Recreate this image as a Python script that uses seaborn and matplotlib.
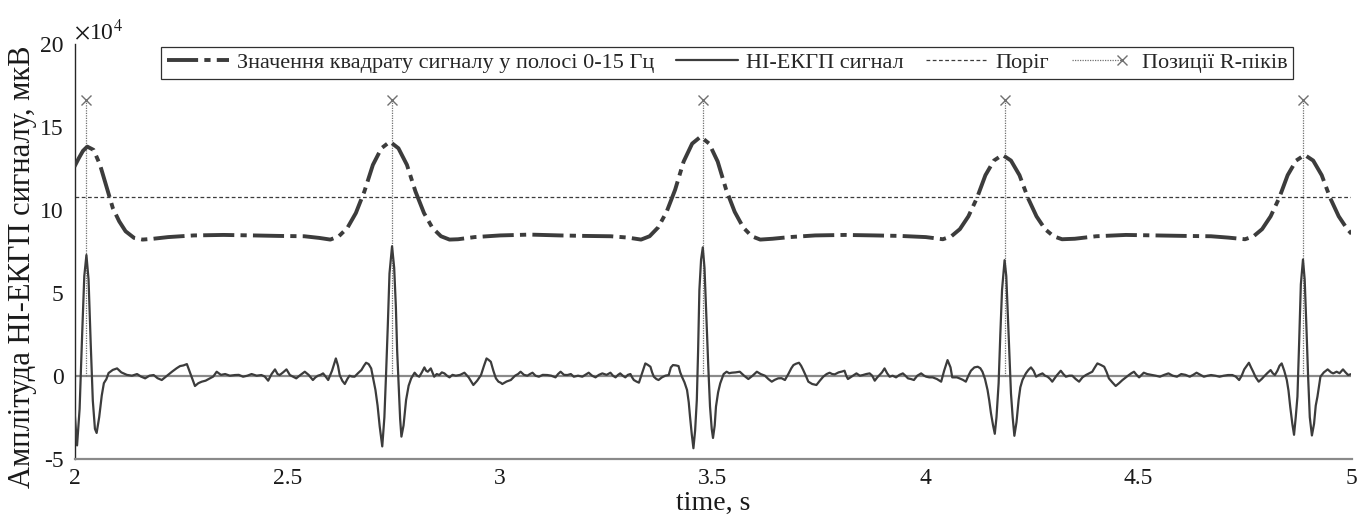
import numpy as np
import pandas as pd
import matplotlib
matplotlib.use("Agg")
import matplotlib.pyplot as plt
from matplotlib.lines import Line2D
from matplotlib.legend_handler import HandlerLine2D
from matplotlib.ticker import FixedLocator, FixedFormatter
import seaborn as sns

# ---------------- data (in units of 1e4 uV) ----------------
ecg_t = [2.000, 2.006, 2.012, 2.018, 2.023, 2.028, 2.033, 2.038, 2.043, 2.048, 2.052, 2.058, 2.064, 2.069,
         2.075, 2.080, 2.090, 2.100, 2.110, 2.123, 2.135, 2.147, 2.156, 2.166, 2.176, 2.186, 2.195, 2.205,
         2.215, 2.229, 2.240, 2.248, 2.256, 2.264, 2.272, 2.283, 2.291, 2.299, 2.308, 2.318, 2.326, 2.334,
         2.344, 2.354, 2.365, 2.377, 2.386, 2.396, 2.406, 2.416, 2.428, 2.439, 2.447, 2.455, 2.463, 2.471,
         2.477, 2.482, 2.490, 2.498, 2.506, 2.513, 2.521, 2.531, 2.541, 2.550, 2.560, 2.566, 2.572, 2.578,
         2.584, 2.590, 2.596, 2.605, 2.614, 2.619, 2.623, 2.629, 2.635, 2.641, 2.646, 2.652, 2.658, 2.666,
         2.674, 2.680, 2.685, 2.691, 2.697, 2.702, 2.707, 2.712, 2.717, 2.723, 2.728, 2.732, 2.736, 2.740,
         2.746, 2.751, 2.755, 2.758, 2.762, 2.765, 2.768, 2.773, 2.779, 2.785, 2.791, 2.799, 2.805, 2.810,
         2.816, 2.822, 2.826, 2.830, 2.837, 2.845, 2.851, 2.857, 2.863, 2.869, 2.875, 2.881, 2.888, 2.896,
         2.906, 2.916, 2.926, 2.937, 2.946, 2.955, 2.962, 2.968, 2.973, 2.978, 2.984, 2.990, 2.996, 3.001,
         3.005, 3.015, 3.025, 3.035, 3.042, 3.048, 3.056, 3.064, 3.070, 3.076, 3.083, 3.091, 3.100, 3.111,
         3.120, 3.130, 3.136, 3.142, 3.150, 3.158, 3.166, 3.173, 3.183, 3.193, 3.200, 3.208, 3.216, 3.224,
         3.232, 3.240, 3.250, 3.259, 3.265, 3.271, 3.277, 3.282, 3.288, 3.294, 3.300, 3.306, 3.310, 3.314,
         3.320, 3.326, 3.334, 3.341, 3.347, 3.353, 3.357, 3.361, 3.367, 3.372, 3.380, 3.388, 3.396, 3.401,
         3.406, 3.413, 3.419, 3.423, 3.427, 3.433, 3.439, 3.443, 3.446, 3.450, 3.454, 3.458, 3.462, 3.465,
         3.468, 3.472, 3.476, 3.480, 3.485, 3.489, 3.493, 3.497, 3.500, 3.504, 3.507, 3.512, 3.517, 3.525,
         3.532, 3.538, 3.544, 3.553, 3.563, 3.573, 3.583, 3.593, 3.603, 3.612, 3.622, 3.630, 3.638, 3.645,
         3.653, 3.661, 3.669, 3.677, 3.684, 3.689, 3.695, 3.702, 3.707, 3.712, 3.718, 3.724, 3.733, 3.743,
         3.751, 3.759, 3.767, 3.774, 3.780, 3.786, 3.795, 3.803, 3.809, 3.813, 3.817, 3.826, 3.837, 3.845,
         3.852, 3.860, 3.868, 3.874, 3.880, 3.886, 3.891, 3.897, 3.903, 3.909, 3.915, 3.922, 3.930, 3.938,
         3.946, 3.952, 3.958, 3.965, 3.972, 3.980, 3.989, 3.996, 4.001, 4.008, 4.016, 4.026, 4.036, 4.043,
         4.051, 4.058, 4.062, 4.067, 4.073, 4.079, 4.087, 4.094, 4.100, 4.106, 4.114, 4.122, 4.128, 4.133,
         4.139, 4.145, 4.149, 4.153, 4.158, 4.162, 4.166, 4.171, 4.175, 4.179, 4.185, 4.189, 4.192, 4.196,
         4.200, 4.204, 4.208, 4.213, 4.218, 4.222, 4.227, 4.235, 4.241, 4.247, 4.253, 4.259, 4.266, 4.274,
         4.280, 4.286, 4.292, 4.297, 4.307, 4.317, 4.323, 4.329, 4.337, 4.344, 4.352, 4.360, 4.368, 4.376,
         4.384, 4.391, 4.397, 4.403, 4.411, 4.419, 4.425, 4.430, 4.438, 4.446, 4.454, 4.462, 4.470, 4.477,
         4.483, 4.489, 4.495, 4.501, 4.507, 4.512, 4.520, 4.530, 4.540, 4.550, 4.560, 4.570, 4.580, 4.590,
         4.600, 4.610, 4.620, 4.628, 4.636, 4.645, 4.653, 4.662, 4.670, 4.680, 4.690, 4.700, 4.710, 4.720,
         4.728, 4.736, 4.742, 4.748, 4.754, 4.759, 4.764, 4.769, 4.775, 4.782, 4.789, 4.794, 4.802, 4.810,
         4.815, 4.820, 4.826, 4.831, 4.836, 4.842, 4.848, 4.852, 4.856, 4.861, 4.865, 4.869, 4.873, 4.877,
         4.881, 4.886, 4.890, 4.894, 4.898, 4.902, 4.907, 4.912, 4.916, 4.920, 4.927, 4.935, 4.944, 4.952,
         4.957, 4.965, 4.972, 4.980, 4.986, 4.992, 5.000]
ecg_v = [-2.10, -4.20, -2.00, 2.50, 6.00, 7.27, 5.80, 2.00, -1.50, -3.20, -3.45, -2.50, -1.20, -0.45,
         -0.20, 0.16, 0.35, 0.44, 0.20, 0.05, 0.00, 0.10, -0.05, -0.16, 0.00, 0.04, -0.15, -0.26,
         -0.05, 0.24, 0.45, 0.58, 0.62, 0.70, 0.14, -0.62, -0.45, -0.36, -0.30, -0.16, -0.05, 0.24,
         0.05, 0.10, 0.00, 0.04, 0.05, -0.06, 0.00, 0.10, 0.00, 0.04, -0.05, -0.30, 0.10, 0.38,
         0.10, 0.04, 0.20, 0.38, 0.04, -0.05, -0.16, 0.05, 0.24, 0.05, -0.26, -0.10, 0.00, 0.05,
         0.14, -0.05, -0.26, 0.30, 1.04, 0.60, 0.04, -0.30, -0.50, -0.20, 0.00, -0.05, -0.06, 0.15,
         0.34, 0.60, 0.78, 0.70, 0.44, -0.20, -0.86, -1.80, -3.06, -4.26, -2.50, 0.14, 3.00, 6.16,
         7.80, 6.50, 4.14, 1.50, -0.86, -2.60, -3.67, -3.00, -1.46, -0.60, -0.16, 0.18, 0.00, -0.06,
         0.20, 0.50, 0.30, 0.24, 0.44, -0.06, 0.10, 0.04, 0.20, 0.14, 0.00, -0.10, 0.05, 0.00,
         0.05, 0.18, -0.10, -0.56, -0.30, 0.04, 0.60, 1.04, 0.95, 0.84, 0.30, -0.16, -0.36, -0.42,
         -0.50, -0.35, -0.26, 0.00, 0.10, 0.24, 0.05, 0.00, 0.10, 0.18, 0.00, -0.06, 0.05, 0.04,
         0.00, -0.10, 0.10, 0.24, 0.05, 0.04, 0.10, -0.06, 0.00, -0.06, 0.05, 0.18, 0.00, -0.10,
         0.05, 0.14, 0.05, 0.18, 0.00, -0.10, 0.05, 0.14, 0.00, -0.10, 0.05, 0.10, -0.10, -0.26,
         -0.35, -0.42, 0.20, 0.74, 0.65, 0.54, 0.20, -0.06, -0.20, -0.26, -0.10, 0.00, 0.04, 0.50,
         0.64, 0.62, 0.58, 0.20, -0.06, -0.40, -0.86, -1.60, -2.46, -3.50, -4.37, -3.30, -1.46, 1.50,
         5.16, 7.00, 7.73, 6.50, 3.15, 0.50, -1.86, -3.20, -3.75, -3.00, -1.86, -1.00, -0.46, 0.10,
         0.24, 0.15, 0.18, 0.20, 0.24, 0.00, -0.20, 0.00, 0.24, 0.10, 0.00, -0.20, -0.36, -0.25,
         -0.16, -0.15, -0.26, 0.10, 0.45, 0.64, 0.72, 0.78, 0.60, 0.34, 0.00, -0.36, -0.50, -0.56,
         -0.30, -0.06, 0.10, 0.18, 0.10, 0.08, 0.20, 0.25, 0.30, 0.00, -0.20, -0.05, 0.14, 0.00,
         0.04, 0.10, 0.14, 0.00, -0.30, -0.10, 0.04, 0.20, 0.44, 0.15, -0.06, 0.00, -0.10, 0.05,
         0.14, 0.00, -0.16, -0.20, -0.26, 0.00, 0.14, 0.00, -0.06, -0.10, -0.10, -0.20, -0.36, 0.30,
         0.94, 0.50, -0.10, -0.10, -0.10, -0.16, -0.25, -0.36, 0.00, 0.30, 0.50, 0.54, 0.45, 0.24,
         -0.20, -0.86, -1.50, -2.26, -3.00, -3.50, -2.50, -0.46, 2.50, 5.16, 6.96, 6.00, 4.14, 1.50,
         -1.06, -2.50, -3.62, -2.80, -1.46, -0.70, -0.26, 0.14, 0.35, 0.50, 0.30, -0.06, 0.05, 0.14,
         0.00, -0.06, -0.20, -0.36, 0.00, 0.30, 0.10, -0.06, 0.00, 0.00, -0.20, -0.36, -0.10, 0.04,
         0.15, 0.24, 0.50, 0.74, 0.65, 0.54, 0.20, -0.16, -0.40, -0.62, -0.45, -0.26, -0.10, 0.04,
         0.15, 0.24, 0.05, -0.10, 0.05, 0.18, 0.10, 0.05, 0.00, -0.06, 0.05, 0.14, 0.00, -0.06,
         0.10, 0.05, -0.06, 0.05, 0.18, 0.05, -0.06, 0.00, 0.04, 0.00, -0.06, 0.00, 0.04, 0.04,
         -0.05, -0.26, 0.00, 0.38, 0.60, 0.78, 0.50, 0.24, -0.10, -0.36, -0.20, -0.06, 0.15, 0.34,
         0.15, 0.04, 0.30, 0.60, 0.74, 0.30, -0.26, -0.90, -1.86, -2.90, -3.56, -2.50, -1.26, 2.00,
         5.50, 7.00, 5.80, 3.00, 0.00, -2.50, -3.60, -2.90, -1.80, -1.26, -0.06, 0.20, 0.38, 0.20,
         0.14, 0.24, 0.15, 0.38, 0.20, 0.04, 0.10]

sq_t = [2.000, 2.010, 2.020, 2.030, 2.045, 2.060, 2.075, 2.090, 2.105, 2.120, 2.140, 2.160, 2.185,
        2.220, 2.280, 2.350, 2.420, 2.480, 2.540, 2.575,
        2.601, 2.621, 2.641, 2.661, 2.681, 2.701, 2.721, 2.741, 2.761, 2.781, 2.801, 2.821, 2.841,
        2.861, 2.881, 2.901, 2.940, 3.000, 3.070, 3.140, 3.200, 3.260, 3.300,
        3.331, 3.351, 3.371, 3.391, 3.411, 3.431, 3.451, 3.471, 3.491, 3.511, 3.531, 3.551, 3.571,
        3.591, 3.611, 3.640, 3.680, 3.740, 3.810, 3.880, 3.940, 4.000,
        4.040, 4.060, 4.080, 4.100, 4.120, 4.140, 4.160, 4.180, 4.200, 4.220, 4.240, 4.260, 4.280,
        4.300, 4.320, 4.350, 4.400, 4.470, 4.540, 4.610, 4.670, 4.710,
        4.750, 4.770, 4.790, 4.810, 4.830, 4.850, 4.870, 4.890, 4.910, 4.930, 4.950, 4.970, 4.990, 5.000]
sq_v = [12.60, 13.10, 13.55, 13.80, 13.60, 12.70, 11.40, 10.10, 9.30, 8.70, 8.30, 8.20, 8.25,
        8.35, 8.45, 8.48, 8.45, 8.42, 8.40, 8.30,
        8.20, 8.40, 8.90, 9.80, 11.10, 12.70, 13.70, 14.10, 13.70, 12.70, 11.10, 9.80, 8.90,
        8.40, 8.20, 8.22, 8.35, 8.45, 8.50, 8.45, 8.42, 8.40, 8.32,
        8.20, 8.40, 8.93, 9.87, 11.20, 12.90, 13.98, 14.40, 13.98, 12.90, 11.20, 9.87, 8.93,
        8.40, 8.20, 8.25, 8.35, 8.45, 8.48, 8.45, 8.42, 8.35,
        8.22, 8.40, 8.83, 9.60, 10.70, 12.08, 12.96, 13.30, 12.96, 12.08, 10.70, 9.60, 8.83,
        8.40, 8.22, 8.25, 8.40, 8.48, 8.45, 8.42, 8.40, 8.32,
        8.22, 8.40, 8.83, 9.60, 10.70, 12.08, 12.96, 13.30, 12.96, 12.08, 10.70, 9.60, 8.83, 8.55]

threshold_value = 10.75
r_peak_t = [2.028, 2.746, 3.476, 4.185, 4.886]
r_peak_v = [16.6, 16.6, 16.6, 16.6, 16.6]

scale = 1e4
x_ticks = [2.0, 2.5, 3.0, 3.5, 4.0, 4.5, 5.0]
x_tick_labels = ["2", "2.5", "3", "3.5", "4", "4.5", "5"]
y_ticks = [-5, 0, 5, 10, 15, 20]
y_tick_labels = ["-5", "0", "5", "10", "15", "20"]
y_offset_label = r"$\times$10$^{4}$"

labels = ["Значення квадрату сигналу у полосі 0-15 Гц", "НІ-ЕКГП сигнал", "Поріг", "Позиції R-піків"]
x_label = "time, s"
y_label = "Амплітуда НІ-ЕКГП сигналу, мкВ"

# ---------------- style ----------------
sns.set_theme(style="white")
plt.rcParams["font.family"] = ["Liberation Serif", "DejaVu Serif"]
plt.rcParams["mathtext.fontset"] = "stix"
plt.rcParams["axes.unicode_minus"] = False

dark = "#3c3c3c"
grey = "#8a8a8a"
stem_c = "#707070"
sq_dashes = (8, 1.6, 1.6, 1.6)


class EndMarkerHandler(HandlerLine2D):
    """Legend line ending in its marker, followed by a small gap (MATLAB style)."""
    def create_artists(self, legend, orig_handle, xdescent, ydescent, width, height, fontsize, trans):
        artists = super().create_artists(legend, orig_handle, xdescent, ydescent, width, height,
                                         fontsize, trans)
        for a in artists:
            x = np.asarray(a.get_xdata(), dtype=float)
            x0, x1 = x[0], x[-1]
            a.set_xdata(np.linspace(x0, x0 + 0.8 * (x1 - x0), len(x)))
            a.set_markevery([len(x) - 1])
        return artists


fig = plt.figure(figsize=(13.57, 5.22), dpi=100)
ax = fig.add_axes([74.5 / 1357, 1 - 458.7 / 522, 1277 / 1357, 415 / 522])

ecg_df = pd.DataFrame({"t": ecg_t, "v": np.array(ecg_v) * scale})
sq_df = pd.DataFrame({"t": sq_t, "v": np.array(sq_v) * scale})

# stem baseline and stems
ax.axhline(0, color=grey, lw=1.6, zorder=1)
ax.vlines(r_peak_t, 0, np.array(r_peak_v) * scale, colors=stem_c, linestyles=(0, (1, 1)), lw=0.9, zorder=2)
ax.plot(r_peak_t, np.array(r_peak_v) * scale, linestyle="none", marker="x", ms=7, mew=1.0,
        color=stem_c, zorder=4)

# threshold
ax.axhline(threshold_value * scale, color=dark, lw=0.9, ls=(0, (3, 2)), zorder=2)

sns.lineplot(data=sq_df, x="t", y="v", ax=ax, estimator=None, sort=False, color=dark, lw=2.8,
             zorder=3, legend=False)
ax.lines[-1].set_dashes(sq_dashes)
sns.lineplot(data=ecg_df, x="t", y="v", ax=ax, estimator=None, sort=False, color=dark, lw=1.6,
             zorder=3, legend=False)

ax.set_xlim(2, 5)
ax.set_ylim(-5 * scale, 20 * scale)
ax.xaxis.set_major_locator(FixedLocator(x_ticks))
ax.xaxis.set_major_formatter(FixedFormatter(x_tick_labels))
ax.yaxis.set_major_locator(FixedLocator([v * scale for v in y_ticks]))
yfmt = FixedFormatter(y_tick_labels)
yfmt.set_offset_string(y_offset_label)
ax.yaxis.set_major_formatter(yfmt)

for side in ["top", "right"]:
    ax.spines[side].set_visible(False)
ax.spines["left"].set_color("#262626")
ax.spines["left"].set_linewidth(1.0)
ax.spines["bottom"].set_color(grey)
ax.spines["bottom"].set_linewidth(1.6)

ax.tick_params(axis="both", direction="in", length=7, width=1.0, color=grey, labelsize=17,
               labelcolor="#1a1a1a")
ax.tick_params(axis="y", pad=8)
ax.tick_params(axis="x", pad=7)
ax.yaxis.get_offset_text().set_fontsize(17)

ax.set_xlabel(x_label, fontsize=20, color="#1a1a1a", labelpad=1)
ax.set_ylabel(y_label, fontsize=22, color="#1a1a1a")
ax.yaxis.set_label_coords(-0.029, 0.462)

handles = [
    Line2D([], [], color=dark, lw=2.8, dashes=sq_dashes),
    Line2D([], [], color=dark, lw=1.6),
    Line2D([], [], color=dark, lw=0.9, ls=(0, (3, 2))),
    Line2D([], [], color=stem_c, lw=0.9, ls=(0, (1, 1)), marker="x", ms=7, mew=1.0),
]
leg = ax.legend(handles, labels, ncol=4, loc="upper left",
                bbox_to_anchor=((161 - 74.5) / 1277, (458.7 - 47) / 415),
                fontsize=16, frameon=True, fancybox=False, framealpha=1, edgecolor="#303030",
                handlelength=2.8, handletextpad=0.35, columnspacing=1.0, borderpad=0.25,
                borderaxespad=0, handler_map={handles[3]: EndMarkerHandler(numpoints=1)})
leg.get_frame().set_linewidth(0.9)

fig.savefig("out.png", dpi=100)
